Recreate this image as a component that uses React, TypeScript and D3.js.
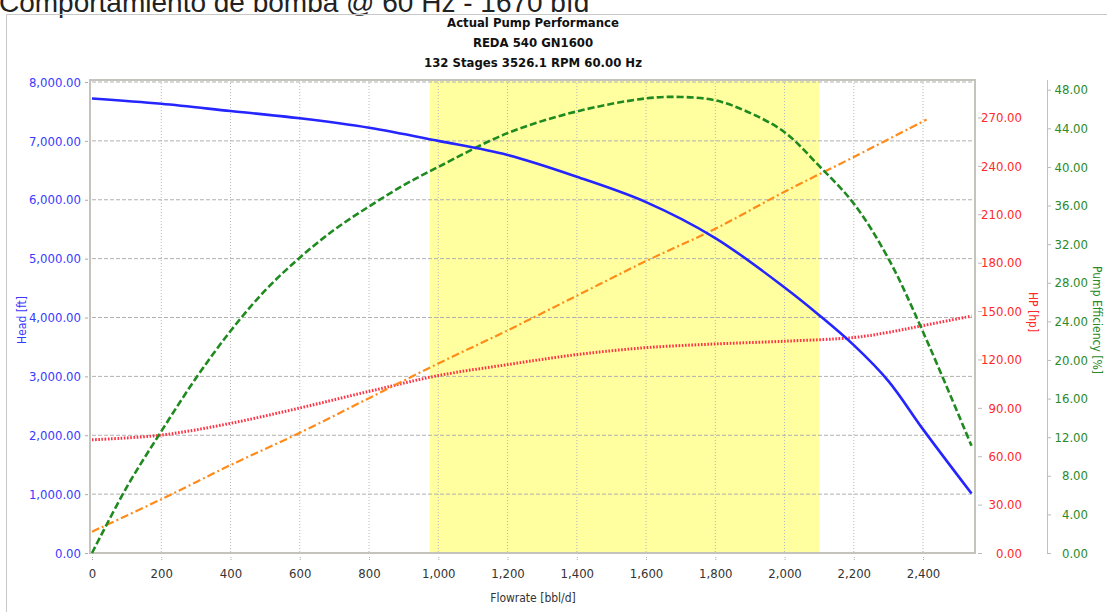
import React, { useEffect, useRef } from 'react';
import * as d3 from 'd3';

// values
const headFlow = [0, 200, 400, 600, 800, 1000, 1200, 1400, 1600, 1800, 2000, 2100, 2200, 2300, 2400, 2540];
const headFt = [7720, 7630, 7507, 7383, 7223, 7000, 6760, 6391, 5960, 5350, 4510, 4040, 3530, 2920, 2100, 1010];

const effFlow = [0, 100, 200, 300, 400, 500, 600, 700, 800, 900, 1000, 1200, 1400, 1600, 1700, 1800, 1900, 2000, 2100, 2200, 2300, 2400, 2540];
const effPct = [0, 6.8, 12.6, 18.1, 23.0, 27.2, 30.6, 33.5, 35.9, 38.1, 40.0, 43.5, 45.75, 47.1, 47.25, 46.9, 45.6, 43.6, 40.1, 36.2, 30.5, 22.9, 11.1];

const hpFlow = [0, 200, 400, 600, 800, 1000, 1200, 1400, 1600, 1800, 2000, 2200, 2410];
const hpVal = [13.2, 33.3, 54.5, 74.5, 96, 117.5, 138, 159.5, 181, 201, 224, 245.5, 268.7];

const hp2Flow = [0, 200, 400, 600, 800, 1000, 1200, 1400, 1600, 1800, 2000, 2200, 2300, 2400, 2540];
const hp2Val = [70.2, 73.1, 80.4, 89.9, 100.2, 110, 116.8, 123, 127.3, 129.6, 131.3, 133.6, 136.8, 141, 146.9];

const rangeMin = 975;
const rangeMax = 2100;

const titleLines = ['Actual Pump Performance', 'REDA 540 GN1600', '132 Stages 3526.1 RPM 60.00 Hz'];

const narrow = '"DejaVu Sans Condensed", "DejaVu Sans", sans-serif';

function PumpChart() {
  const svgRef = useRef<SVGSVGElement>(null);

  useEffect(() => {
    const svg = d3.select(svgRef.current);
    svg.selectAll('*').remove();

    const left = 92, right = 975, top = 82, bottom = 553;

    const x = d3.scaleLinear().domain([0, 2550]).range([left, right]);
    const yHead = d3.scaleLinear().domain([0, 8000]).range([bottom, top]);
    const yHp = d3.scaleLinear().domain([0, 292]).range([bottom, top]);
    const yEff = d3.scaleLinear().domain([0, 48.8]).range([bottom, top]);

    const fmt2 = d3.format(',.2f');

    const styleText = (sel: any, size: number, color: string) =>
      sel.style('font-family', narrow)
        .style('font-stretch', 'condensed')
        .style('font-size', size + 'px')
        .attr('fill', color);

    // big cut-off caption at the very top
    svg.append('text')
      .attr('x', -1).attr('y', 12)
      .style('font-family', '"Liberation Sans", Arial, sans-serif')
      .style('font-size', '28px')
      .attr('fill', '#222')
      .text('Comportamiento de bomba @ 60 Hz - 1670 bfd');

    // outer frame
    svg.append('path')
      .attr('d', 'M6.5,612 V14.5 H1107')
      .attr('fill', 'none').attr('stroke', '#c8c8c8');

    // titles
    titleLines.forEach((t, i) => {
      styleText(svg.append('text')
        .attr('x', 533).attr('y', 27 + i * 20)
        .attr('text-anchor', 'middle')
        .style('font-weight', 'bold'), 13, '#111')
        .text(t);
    });

    // yellow operating range
    svg.append('rect')
      .attr('x', x(rangeMin)).attr('y', top - 2)
      .attr('width', x(rangeMax) - x(rangeMin))
      .attr('height', bottom - top + 2)
      .attr('fill', '#ffffa0');

    // grid
    const xTicks = d3.range(0, 2401, 200);
    const headTicks = d3.range(0, 8001, 1000);
    svg.append('g').selectAll('line').data(xTicks.slice(1)).enter().append('line')
      .attr('x1', d => x(d)).attr('x2', d => x(d))
      .attr('y1', top - 2).attr('y2', bottom)
      .attr('stroke', '#b8b8b8').attr('stroke-dasharray', '1,2');
    svg.append('g').selectAll('line').data(headTicks.slice(1)).enter().append('line')
      .attr('x1', left).attr('x2', right)
      .attr('y1', d => yHead(d)).attr('y2', d => yHead(d))
      .attr('stroke', '#b0b0b0').attr('stroke-dasharray', '4,2');

    // plot frame
    svg.append('rect')
      .attr('x', left - 2).attr('y', top - 2)
      .attr('width', right - left + 2).attr('height', bottom - top + 2)
      .attr('fill', 'none').attr('stroke', '#c4c4bc').attr('stroke-width', 2);

    // curves
    const drawCurve = (fx: number[], fy: number[], ys: d3.ScaleLinear<number, number>, color: string, width: number, dash: string | null) => {
      const pts = fx.map((f, i) => [f, fy[i]] as [number, number]);
      const line = d3.line<[number, number]>()
        .x(d => x(d[0])).y(d => ys(d[1]))
        .curve(d3.curveCatmullRom);
      svg.append('path')
        .attr('d', line(pts))
        .attr('fill', 'none')
        .attr('stroke', color)
        .attr('stroke-width', width)
        .attr('stroke-dasharray', dash);
    };
    drawCurve(hp2Flow, hp2Val, yHp, '#ff3344', 3, '1.6,1.6');
    drawCurve(hpFlow, hpVal, yHp, '#ff8c1a', 2.2, '8,3,2,3');
    drawCurve(effFlow, effPct, yEff, '#1f8a1f', 2.6, '7,3');
    drawCurve(headFlow, headFt, yHead, '#2525ff', 2.6, null);

    // left axis (Head)
    const gL = svg.append('g').attr('transform', `translate(${left - 4},0)`)
      .call(d3.axisLeft(yHead).tickValues(headTicks).tickSize(3).tickPadding(4).tickFormat(d => fmt2(+d)));
    gL.select('.domain').remove();
    gL.selectAll('line').attr('stroke', '#aaa');
    styleText(gL.selectAll('text'), 13, '#3a3aff');

    // bottom axis
    const gB = svg.append('g').attr('transform', `translate(0,${bottom + 4})`)
      .call(d3.axisBottom(x).tickValues(xTicks).tickSize(4).tickPadding(8).tickFormat(d3.format(',')));
    gB.select('.domain').remove();
    gB.selectAll('line').attr('stroke', '#aaa').attr('stroke-dasharray', '1,1');
    styleText(gB.selectAll('text'), 13, '#333');

    // HP axis
    const gH = svg.append('g').attr('transform', `translate(${right + 3},0)`)
      .call(d3.axisRight(yHp).tickValues(d3.range(0, 271, 30)).tickSize(4).tickPadding(40).tickFormat(d => fmt2(+d)));
    gH.select('.domain').remove();
    gH.selectAll('line').attr('stroke', '#bbb');
    styleText(gH.selectAll('text'), 13, '#ff2a2a').attr('text-anchor', 'end');

    // efficiency axis
    const gE = svg.append('g').attr('transform', 'translate(1047,0)')
      .call(d3.axisRight(yEff).tickValues(d3.range(0, 49, 4)).tickSize(4).tickPadding(37).tickFormat(d => fmt2(+d)));
    gE.select('.domain').attr('stroke', '#c0c0c0').attr('d', `M0.5,${top - 2}V${bottom}`);
    gE.selectAll('line').attr('stroke', '#bbb');
    styleText(gE.selectAll('text'), 13, '#2a8a2a').attr('text-anchor', 'end');

    // axis titles
    styleText(svg.append('text')
      .attr('transform', 'translate(26,320) rotate(-90)')
      .attr('text-anchor', 'middle'), 12, '#3a3aff').text('Head [ft]');
    styleText(svg.append('text')
      .attr('x', 533).attr('y', 602)
      .attr('text-anchor', 'middle'), 12, '#333').text('Flowrate [bbl/d]');
    styleText(svg.append('text')
      .attr('transform', 'translate(1029,312) rotate(90)')
      .attr('text-anchor', 'middle'), 12, '#ff2a2a').text('HP [hp]');
    styleText(svg.append('text')
      .attr('transform', 'translate(1093,320) rotate(90)')
      .attr('text-anchor', 'middle'), 12, '#2a8a2a').text('Pump Efficiency [%]');
  }, []);

  return (
    <svg ref={svgRef} width={1107} height={612}
      style={{ position: 'absolute', left: 0, top: 0, background: '#fff' }}></svg>
  );
}

export default function App() {
  return <PumpChart />;
}
